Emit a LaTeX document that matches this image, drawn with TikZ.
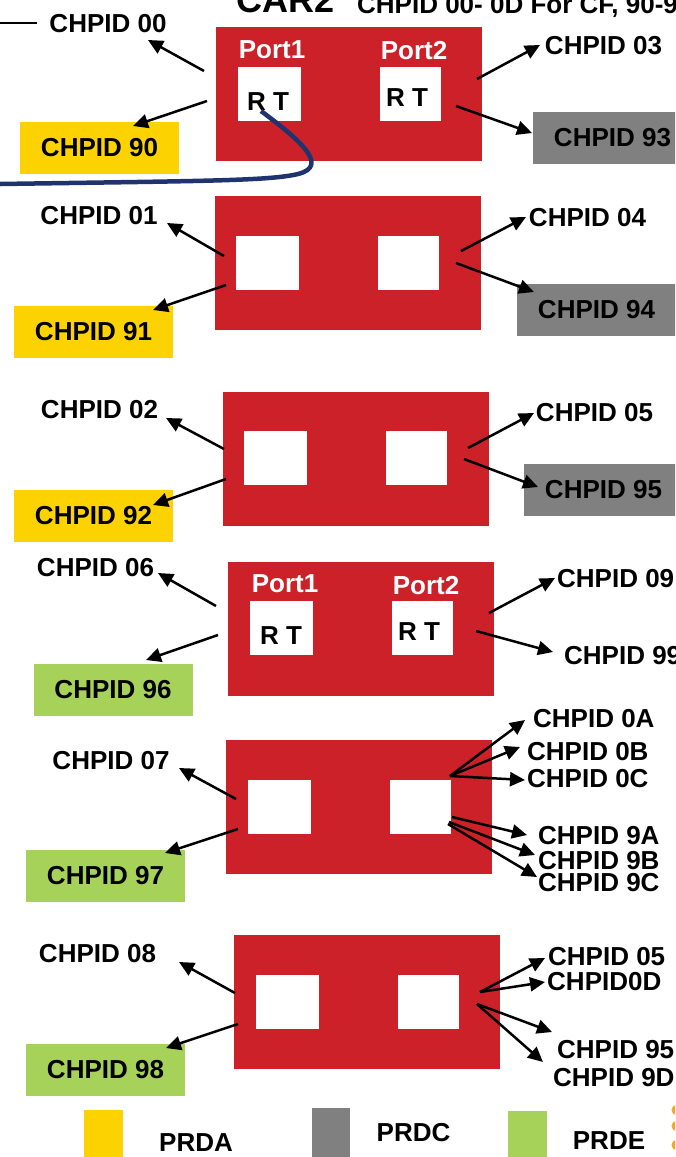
\documentclass[tikz,border=0pt]{standalone}
\usepackage{fontspec}
\setmainfont{Liberation Sans}
\usetikzlibrary{arrows.meta}
\definecolor{cardred}{RGB}{204,33,40}
\definecolor{prda}{RGB}{252,211,0}
\definecolor{prdc}{RGB}{128,128,128}
\definecolor{prde}{RGB}{166,210,90}
\definecolor{navy}{RGB}{31,52,110}
\definecolor{logodot}{RGB}{245,170,30}
\newcommand{\lblfont}{\fontsize{26}{30}\selectfont\bfseries}
\newcommand{\carfont}{\fontsize{36}{40}\selectfont\bfseries}

\begin{document}
\begin{tikzpicture}[x=1pt,y=-1pt,
    every node/.style={inner sep=0pt},
    lbl/.style={font=\lblfont},
    card/.style={fill=cardred, minimum width=266pt, minimum height=134pt},
    port/.style={fill=white, minimum height=54pt},
    portl/.style={port, minimum width=63pt},
    portr/.style={port, minimum width=61pt},
    chbox/.style={lbl, minimum width=159pt, minimum height=52pt},
    conn/.style={line width=2.5pt, -{Triangle[length=15pt,width=14pt]}},
    cable/.style={draw=navy, line width=4.5pt}]
  \useasboundingbox (0,0) rectangle (675,1157);
  \clip (0,0) rectangle (675,1157);

  % title
  \node[font=\carfont, anchor=base west] (car) at (236,12) {CAR2};
  \node[lbl, anchor=base west] (sub) at (357,13) {CHPID 00- 0D For CF, 90-9D};

  % card 1
  \node[card] (card1) at (349,93.5) {};
  \node[portl] (p1a) at (269.5,94) {};
  \node[portr] (p1b) at (410.5,94) {};
  \node[lbl, white] (n1a) at (272,50) {Port1};
  \node[lbl, white] (n1b) at (414,51) {Port2};
  \node[lbl] (rt1a) at (268,102) {R T};
  \node[lbl] (rt1b) at (407,98) {R T};
  \node[lbl] (l00) at (108,24) {CHPID 00};
  \node[lbl] (l03) at (603.5,46) {CHPID 03};
  \node[chbox, fill=prda] (b90) at (99.5,148) {CHPID 90};
  \node[chbox, fill=prdc] (b93) at (612.5,138) {CHPID 93};
  \coordinate (wl) at (0,23); \coordinate (wr) at (37,23);
  \draw[line width=2pt] (wl) -- (wr);
  \coordinate (s1a) at (204,71);  \coordinate (t1a) at (148,40);
  \coordinate (s1b) at (207,101); \coordinate (t1b) at (133,126);
  \coordinate (s1c) at (477,79);  \coordinate (t1c) at (540,45);
  \coordinate (s1d) at (456,106); \coordinate (t1d) at (532,133);
  \draw[conn] (s1a) -- (t1a);
  \draw[conn] (s1b) -- (t1b);
  \draw[conn] (s1c) -- (t1c);
  \draw[conn] (s1d) -- (t1d);
  \coordinate (cab0) at (261,111); \coordinate (cab1) at (0,184);
  \draw[cable] (cab0) .. controls (300,140) and (330,166) .. (298,174)
    .. controls (269,181) and (200,181) .. (cab1);

  % card 2
  \node[card] (card2) at (347.5,263) {};
  \node[portl] (p2a) at (267.5,263) {};
  \node[portr] (p2b) at (408.5,263) {};
  \node[lbl] (l01) at (99,216) {CHPID 01};
  \node[lbl] (l04) at (587.5,217.5) {CHPID 04};
  \node[chbox, fill=prda] (b91) at (93.5,331.5) {CHPID 91};
  \node[chbox, fill=prdc] (b94) at (596.5,309.5) {CHPID 94};
  \coordinate (s2a) at (224,256); \coordinate (t2a) at (167,223);
  \coordinate (s2b) at (226,285); \coordinate (t2b) at (153,310);
  \coordinate (s2c) at (461,251); \coordinate (t2c) at (526,217);
  \coordinate (s2d) at (456,263); \coordinate (t2d) at (534,292);
  \draw[conn] (s2a) -- (t2a);
  \draw[conn] (s2b) -- (t2b);
  \draw[conn] (s2c) -- (t2c);
  \draw[conn] (s2d) -- (t2d);

  % card 3
  \node[card] (card3) at (355.5,458.5) {};
  \node[portl] (p3a) at (275.5,458) {};
  \node[portr] (p3b) at (416.5,458) {};
  \node[lbl] (l02) at (99.5,409.5) {CHPID 02};
  \node[lbl] (l05) at (594.5,413) {CHPID 05};
  \node[chbox, fill=prda] (b92) at (93.5,516) {CHPID 92};
  \node[chbox, fill=prdc] (b95) at (603.5,490) {CHPID 95};
  \coordinate (s3a) at (224,449); \coordinate (t3a) at (166,418);
  \coordinate (s3b) at (226,479); \coordinate (t3b) at (153,505);
  \coordinate (s3c) at (468,448); \coordinate (t3c) at (534,413);
  \coordinate (s3d) at (464,459); \coordinate (t3d) at (538,487);
  \draw[conn] (s3a) -- (t3a);
  \draw[conn] (s3b) -- (t3b);
  \draw[conn] (s3c) -- (t3c);
  \draw[conn] (s3d) -- (t3d);

  % card 4
  \node[card] (card4) at (361,628.5) {};
  \node[portl] (p4a) at (281.5,628) {};
  \node[portr] (p4b) at (422.5,628) {};
  \node[lbl, white] (n4a) at (285,584) {Port1};
  \node[lbl, white] (n4b) at (426,586) {Port2};
  \node[lbl] (rt4a) at (281,636) {R T};
  \node[lbl] (rt4b) at (419,632) {R T};
  \node[lbl] (l06) at (95.5,567.5) {CHPID 06};
  \node[lbl, anchor=west] (l09) at (557,579) {CHPID 09};
  \node[lbl, anchor=west] (l99) at (564,656) {CHPID 99};
  \node[chbox, fill=prde] (b96) at (113,690) {CHPID 96};
  \coordinate (s4a) at (216,606); \coordinate (t4a) at (158,573);
  \coordinate (s4b) at (218,635); \coordinate (t4b) at (146,660);
  \coordinate (s4c) at (489,613); \coordinate (t4c) at (555,578);
  \coordinate (s4d) at (476,631); \coordinate (t4d) at (553,652);
  \draw[conn] (s4a) -- (t4a);
  \draw[conn] (s4b) -- (t4b);
  \draw[conn] (s4c) -- (t4c);
  \draw[conn] (s4d) -- (t4d);

  % card 5
  \node[card] (card5) at (359,807) {};
  \node[portl] (p5a) at (279.5,807) {};
  \node[portr] (p5b) at (420.5,807) {};
  \node[lbl] (l07) at (111,761) {CHPID 07};
  \node[lbl, anchor=west] (l0A) at (533,719) {CHPID 0A};
  \node[lbl, anchor=west] (l0B) at (527,752) {CHPID 0B};
  \node[lbl, anchor=west] (l0C) at (527,779) {CHPID 0C};
  \node[lbl, anchor=west] (l9A) at (538,836) {CHPID 9A};
  \node[lbl, anchor=west] (l9B) at (538,861) {CHPID 9B};
  \node[lbl, anchor=west] (l9C) at (538,883) {CHPID 9C};
  \node[chbox, fill=prde] (b97) at (105.5,876) {CHPID 97};
  \coordinate (s5a) at (236,799); \coordinate (t5a) at (179,768);
  \coordinate (s5b) at (238,829); \coordinate (t5b) at (165,853);
  \coordinate (f5u) at (450,776);
  \coordinate (t5c) at (525,720); \coordinate (t5d) at (520,747);
  \coordinate (t5e) at (525,780);
  \coordinate (f5l) at (452,817); \coordinate (f5m) at (449,822);
  \coordinate (f5n) at (448,824);
  \coordinate (t5f) at (527,835); \coordinate (t5g) at (535,855);
  \coordinate (t5h) at (537,877);
  \draw[conn] (s5a) -- (t5a);
  \draw[conn] (s5b) -- (t5b);
  \draw[conn] (f5u) -- (t5c);
  \draw[conn] (f5u) -- (t5d);
  \draw[conn] (f5u) -- (t5e);
  \draw[conn] (f5l) -- (t5f);
  \draw[conn] (f5m) -- (t5g);
  \draw[conn] (f5n) -- (t5h);

  % card 6
  \node[card] (card6) at (366.5,1002) {};
  \node[portl] (p6a) at (287.5,1002) {};
  \node[portr] (p6b) at (428.5,1002) {};
  \node[lbl] (l08) at (97.5,954) {CHPID 08};
  \node[lbl, anchor=west] (l05b) at (548,957) {CHPID 05};
  \node[lbl, anchor=west] (l0D) at (547,982) {CHPID0D};
  \node[lbl, anchor=west] (l95b) at (557,1050) {CHPID 95};
  \node[lbl, anchor=west] (l9D) at (553,1078) {CHPID 9D};
  \node[chbox, fill=prde] (b98) at (105.5,1070) {CHPID 98};
  \coordinate (s6a) at (235,993);  \coordinate (t6a) at (179,962);
  \coordinate (s6b) at (238,1024); \coordinate (t6b) at (166,1048);
  \coordinate (f6u) at (480,992);  \coordinate (f6l) at (477,1004);
  \coordinate (t6c) at (545,958);  \coordinate (t6d) at (545,982);
  \coordinate (t6e) at (552,1032); \coordinate (t6f) at (543,1062);
  \draw[conn] (s6a) -- (t6a);
  \draw[conn] (s6b) -- (t6b);
  \draw[conn] (f6u) -- (t6c);
  \draw[conn] (f6u) -- (t6d);
  \draw[conn] (f6l) -- (t6e);
  \draw[conn] (f6l) -- (t6f);

  % legend
  \node[fill=prda, minimum width=39pt, minimum height=50pt] (ka) at (103.5,1135) {};
  \node[fill=prdc, minimum width=38pt, minimum height=52pt] (kc) at (331,1134) {};
  \node[fill=prde, minimum width=39pt, minimum height=49pt] (ke) at (527.5,1135.5) {};
  \node[lbl] (kal) at (196,1142.5) {PRDA};
  \node[lbl] (kcl) at (413.5,1133) {PRDC};
  \node[lbl] (kel) at (609,1141) {PRDE};
  \fill[logodot] (677,1110) circle[radius=5.5pt];
  \fill[logodot] (677,1126) circle[radius=5.5pt];
  \fill[logodot] (677,1145) circle[radius=5.5pt];
\end{tikzpicture}
\end{document}
